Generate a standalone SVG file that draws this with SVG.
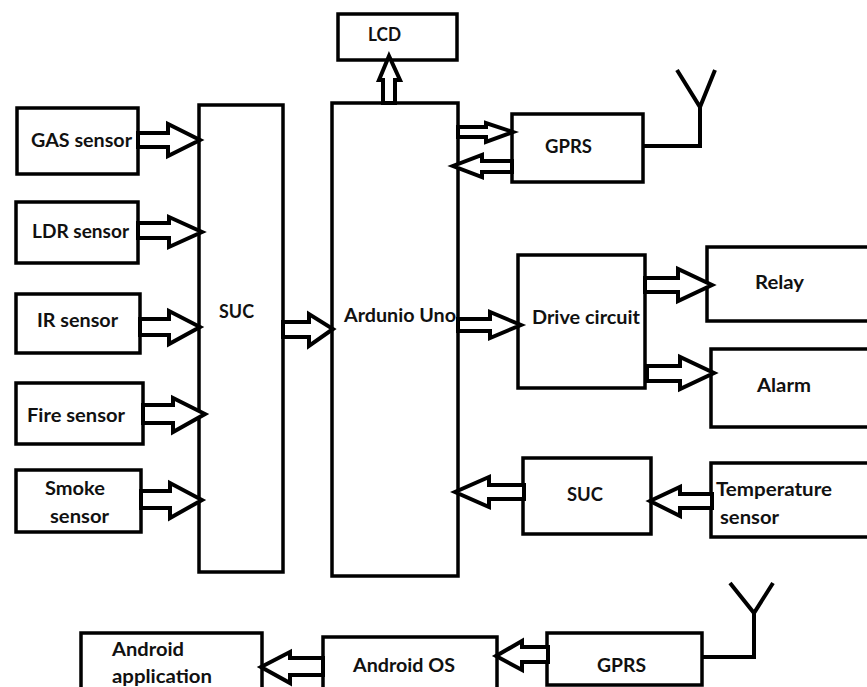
<svg xmlns="http://www.w3.org/2000/svg" width="867" height="687" viewBox="0 0 867 687">
<style>
.b{fill:#fff;stroke:#000;stroke-width:3.5}
.a{fill:#fff;stroke:#000;stroke-width:4;stroke-linejoin:miter}
.w{fill:none;stroke:#000;stroke-width:4}
text{font-family:Lato,"Liberation Sans",sans-serif;font-weight:700;font-size:18.5px;fill:#111}
</style>
<rect width="867" height="687" fill="#fff"/>
<g id="gas"><rect class="b" x="17" y="108" width="121" height="66"/><text x="31" y="147" textLength="101" lengthAdjust="spacingAndGlyphs">GAS sensor</text></g>
<g id="ldr"><rect class="b" x="16" y="202" width="122" height="61"/><text x="32" y="238" textLength="97" lengthAdjust="spacingAndGlyphs">LDR sensor</text></g>
<g id="ir"><rect class="b" x="16" y="294" width="124" height="59"/><text x="37" y="327" textLength="81" lengthAdjust="spacingAndGlyphs">IR sensor</text></g>
<g id="fire"><rect class="b" x="16" y="383" width="127" height="61"/><text x="27" y="422" textLength="98" lengthAdjust="spacingAndGlyphs">Fire sensor</text></g>
<g id="smoke"><rect class="b" x="16" y="470" width="125" height="62"/><text x="45" y="495" textLength="60" lengthAdjust="spacingAndGlyphs">Smoke</text><text x="50" y="523" textLength="59" lengthAdjust="spacingAndGlyphs">sensor</text></g>
<g id="suc1"><rect class="b" x="199" y="105" width="84" height="467"/><text x="219" y="318" textLength="35" lengthAdjust="spacingAndGlyphs">SUC</text></g>
<g id="arduino"><rect class="b" x="332" y="103" width="126" height="473"/><text x="344" y="322" textLength="112" lengthAdjust="spacingAndGlyphs">Ardunio Uno</text></g>
<g id="lcd"><rect class="b" x="338" y="14" width="119" height="46"/><text x="368" y="41" textLength="33" lengthAdjust="spacingAndGlyphs">LCD</text></g>
<g id="gprs1"><rect class="b" x="512" y="114" width="131" height="68"/><text x="545" y="153" textLength="47" lengthAdjust="spacingAndGlyphs">GPRS</text></g>
<g id="drive"><rect class="b" x="518" y="255" width="127" height="133"/><text x="532" y="324" textLength="108" lengthAdjust="spacingAndGlyphs">Drive circuit</text></g>
<g id="relay"><rect class="b" x="707" y="247" width="170" height="74"/><text x="755" y="289" textLength="49" lengthAdjust="spacingAndGlyphs">Relay</text></g>
<g id="alarm"><rect class="b" x="711" y="349" width="170" height="78"/><text x="757" y="392" textLength="54" lengthAdjust="spacingAndGlyphs">Alarm</text></g>
<g id="suc2"><rect class="b" x="523" y="458" width="128" height="76"/><text x="567" y="501" textLength="36" lengthAdjust="spacingAndGlyphs">SUC</text></g>
<g id="temp"><rect class="b" x="711" y="463" width="170" height="74"/><text x="716" y="496" textLength="116" lengthAdjust="spacingAndGlyphs">Temperature</text><text x="720" y="524" textLength="59" lengthAdjust="spacingAndGlyphs">sensor</text></g>
<g id="app"><rect class="b" x="81" y="633" width="181" height="70"/><text x="112" y="656" textLength="72" lengthAdjust="spacingAndGlyphs">Android</text><text x="112" y="683" textLength="100" lengthAdjust="spacingAndGlyphs">application</text></g>
<g id="os"><rect class="b" x="323" y="637" width="174" height="70"/><text x="353" y="672" textLength="102" lengthAdjust="spacingAndGlyphs">Android OS</text></g>
<g id="gprs2"><rect class="b" x="547" y="633" width="155" height="52"/><text x="597" y="672" textLength="49" lengthAdjust="spacingAndGlyphs">GPRS</text></g>
<g id="connectors">
<polygon class="a" points="138,133 168,133 168,124 200,140 168,156 168,147 138,147"/>
<polygon class="a" points="138,223 169,223 169,217 202,232 169,247 169,238 138,238"/>
<polygon class="a" points="140,319 169,319 169,311 200,327 169,344 169,335 140,335"/>
<polygon class="a" points="143,405 173,405 173,398 205,414 173,432 173,423 143,423"/>
<polygon class="a" points="141,491 170,491 170,483 202,500 170,518 170,508 141,508"/>
<polygon class="a" points="283,322 309,322 309,314 333,329 309,346 309,337 283,337"/>
<polygon class="a" points="383,103 383,80 379,80 389,56 400,80 395,80 395,103"/>
<polygon class="a" points="458,127 486,127 486,123 513,132 486,142 486,137 458,137"/>
<polygon class="a" points="512,161 482,161 482,155 453,166 482,177 482,172 512,172"/>
<polygon class="a" points="458,319 490,319 490,312 521,325 490,338 490,331 458,331"/>
<polygon class="a" points="645,278 678,278 678,269 712,285 678,301 678,292 645,292"/>
<polygon class="a" points="647,366 680,366 680,357 714,373 680,389 680,381 647,381"/>
<polygon class="a" points="524,485 489,485 489,477 455,492 489,507 489,499 524,499"/>
<polygon class="a" points="712,494 680,494 680,487 650,501 680,516 680,508 712,508"/>
<polygon class="a" points="323,658 290,658 290,652 261,667 290,683 290,675 323,675"/>
<polygon class="a" points="548,647 522,647 522,641 496,656 522,670 522,662 548,662"/>
<polyline class="w" points="643,146 700,146 700,107"/>
<polyline class="w" points="677,70 700,107 715,70"/>
<polyline class="w" points="702,657 754,657 754,613"/>
<polyline class="w" points="730,583 754,613 773,583"/>
</g>
</svg>
